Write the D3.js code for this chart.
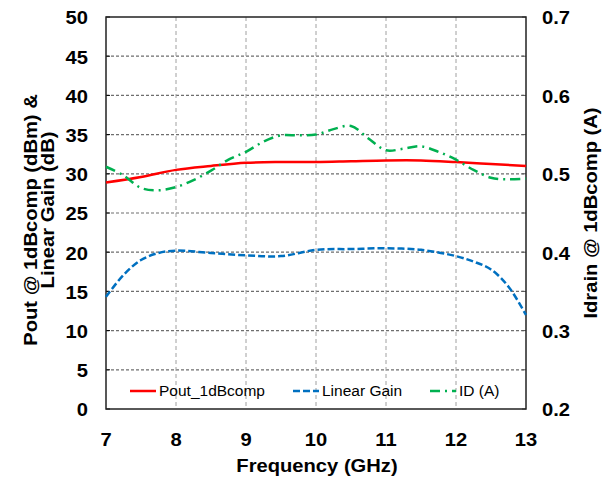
<!DOCTYPE html>
<html lang="en">
<head>
  <meta charset="UTF-8">
  <title>Pout / Gain / ID vs Frequency</title>
  <script src="https://d3js.org/d3.v7.min.js"></script>
  <style>
    body { margin: 0; background: #fff; }
    svg { display: block; font-family: "Liberation Sans", Arial, sans-serif; }
    .tick-label { font-size: 18px; font-weight: 700; fill: #000; }
    .axis-title { font-size: 18px; font-weight: 700; fill: #000; }
    .legend-text { font-size: 15.5px; fill: #000; }
  </style>
</head>
<body>
  <script>
    // Pout @ 1dBcomp (dBm)
    const poutFreq = [7, 7.5, 8, 8.5, 9, 9.5, 10, 10.5, 11, 11.5, 12, 12.5, 13];
    const pout = [28.9, 29.6, 30.5, 31.0, 31.4, 31.5, 31.5, 31.6, 31.7, 31.7, 31.5, 31.25, 31.0];

    // Linear gain (dB)
    const gainFreq = [7, 7.25, 7.5, 7.75, 8, 8.5, 9, 9.5, 10, 10.5, 11, 11.5, 12, 12.25, 12.5, 12.75, 13];
    const gain = [14.3, 17.1, 19.0, 19.9, 20.2, 19.9, 19.6, 19.5, 20.3, 20.4, 20.5, 20.3, 19.5, 18.8, 17.8, 15.6, 12.0];

    // Idrain @ 1dBcomp (A), right axis
    const idFreq = [7, 7.25, 7.5, 7.75, 8, 8.25, 8.5, 8.75, 9, 9.25, 9.5, 9.75, 10, 10.25, 10.5, 10.75, 11, 11.25, 11.5, 11.75, 12, 12.25, 12.5, 12.75, 13];
    const idrain = [0.509, 0.498, 0.482, 0.479, 0.483, 0.492, 0.504, 0.518, 0.528, 0.541, 0.549, 0.549, 0.550, 0.557, 0.561, 0.545, 0.530, 0.532, 0.535, 0.528, 0.518, 0.505, 0.495, 0.493, 0.494];

    const xTicks = [7, 8, 9, 10, 11, 12, 13];
    const yLeftTicks = [0, 5, 10, 15, 20, 25, 30, 35, 40, 45, 50];
    const yRightTicks = [0.2, 0.3, 0.4, 0.5, 0.6, 0.7];
    const yRightMinor = [0.25, 0.35, 0.45, 0.55, 0.65];

    const W = 604, H = 478;
    const m = { left: 106, top: 17, right: 78, bottom: 69 };
    const pw = W - m.left - m.right;
    const ph = H - m.top - m.bottom;
    const sx = 1.12; // bold labels render wide in the reference

    const x = d3.scaleLinear().domain([7, 13]).range([m.left, m.left + pw]);
    const yL = d3.scaleLinear().domain([0, 50]).range([m.top + ph, m.top]);
    const yR = d3.scaleLinear().domain([0.2, 0.7]).range([m.top + ph, m.top]);

    const svg = d3.select('body').append('svg')
      .attr('width', W)
      .attr('height', H);

    // grid
    svg.append('g').selectAll('line')
      .data(yLeftTicks.slice(1, -1))
      .join('line')
      .attr('x1', m.left).attr('x2', m.left + pw)
      .attr('y1', d => yL(d)).attr('y2', d => yL(d))
      .attr('stroke', '#6e6e6e')
      .attr('stroke-width', 1.2)
      .attr('stroke-dasharray', '3,2');

    svg.append('g').selectAll('line')
      .data(xTicks.slice(1, -1))
      .join('line')
      .attr('x1', d => x(d)).attr('x2', d => x(d))
      .attr('y1', m.top).attr('y2', m.top + ph)
      .attr('stroke', '#a0a0a0')
      .attr('stroke-width', 1)
      .attr('stroke-dasharray', '4,3');

    // inner tick marks
    svg.append('g').selectAll('line')
      .data(yLeftTicks)
      .join('line')
      .attr('x1', m.left).attr('x2', m.left + 4)
      .attr('y1', d => yL(d)).attr('y2', d => yL(d))
      .attr('stroke', '#000');

    svg.append('g').selectAll('line')
      .data(yRightTicks.concat(yRightMinor))
      .join('line')
      .attr('x1', m.left + pw - 4).attr('x2', m.left + pw)
      .attr('y1', d => yR(d)).attr('y2', d => yR(d))
      .attr('stroke', '#555');

    // frame
    svg.append('rect')
      .attr('x', m.left).attr('y', m.top)
      .attr('width', pw).attr('height', ph)
      .attr('fill', 'none')
      .attr('stroke', '#222')
      .attr('stroke-width', 1.5);

    // series
    const curve = d3.curveCatmullRom.alpha(0.5);

    svg.append('path')
      .datum(d3.zip(poutFreq, pout))
      .attr('fill', 'none')
      .attr('stroke', '#ff0000')
      .attr('stroke-width', 2.5)
      .attr('d', d3.line().x(d => x(d[0])).y(d => yL(d[1])).curve(curve));

    svg.append('path')
      .datum(d3.zip(gainFreq, gain))
      .attr('fill', 'none')
      .attr('stroke', '#0070c0')
      .attr('stroke-width', 2.5)
      .attr('stroke-dasharray', '7,3')
      .attr('d', d3.line().x(d => x(d[0])).y(d => yL(d[1])).curve(curve));

    svg.append('path')
      .datum(d3.zip(idFreq, idrain))
      .attr('fill', 'none')
      .attr('stroke', '#00b050')
      .attr('stroke-width', 2.5)
      .attr('stroke-dasharray', '10,5,2,5')
      .attr('d', d3.line().x(d => x(d[0])).y(d => yR(d[1])).curve(curve));

    // tick labels
    svg.append('g').selectAll('text')
      .data(yLeftTicks)
      .join('text')
      .attr('class', 'tick-label')
      .attr('text-anchor', 'end')
      .attr('dy', '0.35em')
      .attr('transform', d => `translate(88,${yL(d) + 1}) scale(${sx},1)`)
      .text(d => d);

    svg.append('g').selectAll('text')
      .data(yRightTicks)
      .join('text')
      .attr('class', 'tick-label')
      .attr('dy', '0.35em')
      .attr('transform', d => `translate(542,${yR(d) + 1}) scale(${sx},1)`)
      .text(d => d3.format('.1f')(d));

    svg.append('g').selectAll('text')
      .data(xTicks)
      .join('text')
      .attr('class', 'tick-label')
      .attr('text-anchor', 'middle')
      .attr('dy', '0.35em')
      .attr('transform', d => `translate(${x(d)},440) scale(${sx},1)`)
      .text(d => d);

    // axis titles
    svg.append('text')
      .attr('class', 'axis-title')
      .attr('text-anchor', 'middle')
      .attr('transform', `translate(317,472) scale(${sx},1)`)
      .text('Frequency (GHz)');

    svg.append('text')
      .attr('class', 'axis-title')
      .attr('text-anchor', 'middle')
      .attr('transform', `translate(37,220) rotate(-90) scale(${sx},1)`)
      .text('Pout @ 1dBcomp (dBm) &');

    svg.append('text')
      .attr('class', 'axis-title')
      .attr('text-anchor', 'middle')
      .attr('transform', `translate(54,210) rotate(-90) scale(${sx},1)`)
      .text('Linear Gain (dB)');

    svg.append('text')
      .attr('class', 'axis-title')
      .attr('text-anchor', 'middle')
      .attr('transform', `translate(597,213) rotate(-90) scale(${sx},1)`)
      .text('Idrain @ 1dBcomp (A)');

    // legend
    const legendItems = [
      { label: 'Pout_1dBcomp', color: '#ff0000', dash: null, x0: 130 },
      { label: 'Linear Gain', color: '#0070c0', dash: '7,3', x0: 293 },
      { label: 'ID (A)', color: '#00b050', dash: '10,5,2,5', x0: 430 }
    ];
    const ly = 391;
    const lg = svg.append('g').selectAll('g')
      .data(legendItems)
      .join('g');
    lg.append('line')
      .attr('x1', d => d.x0).attr('x2', d => d.x0 + 26)
      .attr('y1', ly).attr('y2', ly)
      .attr('stroke', d => d.color)
      .attr('stroke-width', 2.5)
      .attr('stroke-dasharray', d => d.dash);
    lg.append('text')
      .attr('class', 'legend-text')
      .attr('x', d => d.x0 + 29)
      .attr('y', ly)
      .attr('dy', '0.35em')
      .text(d => d.label);
  </script>
</body>
</html>
